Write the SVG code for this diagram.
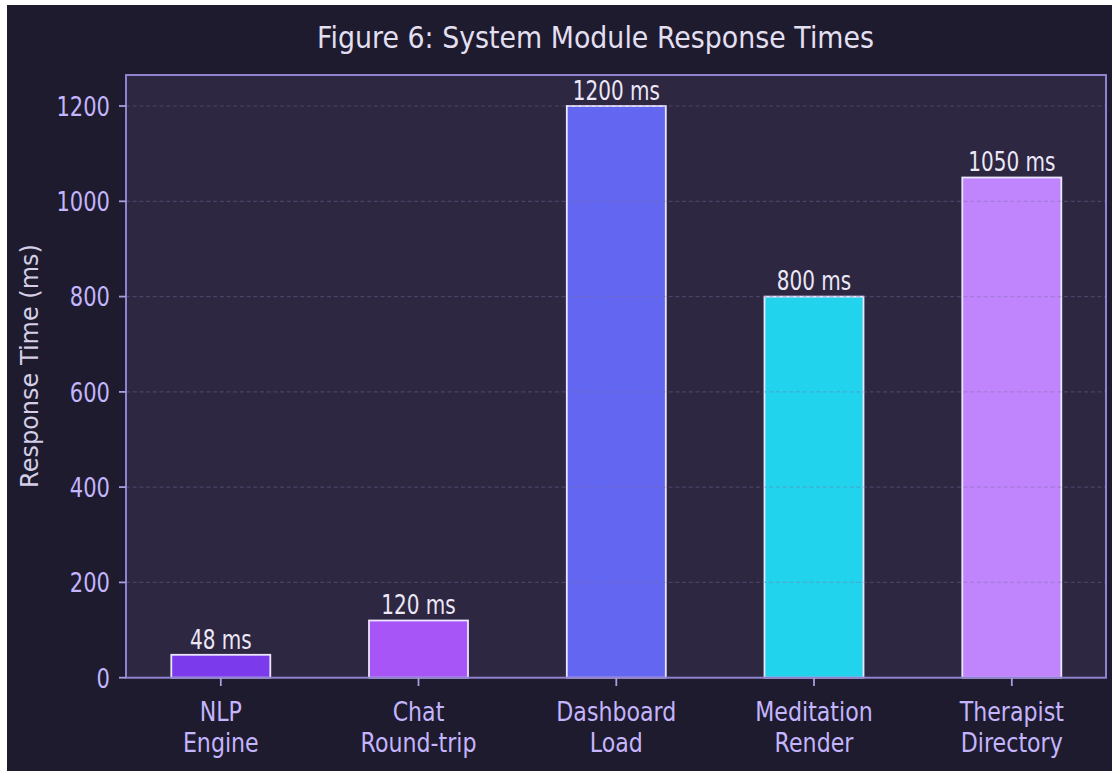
<svg xmlns="http://www.w3.org/2000/svg" width="1112" height="771" viewBox="0 0 1112 771">
  <style>
    .txt { font-family: "DejaVu Sans", "Liberation Sans", sans-serif; }
    .title { font-size: 31px; fill: #e2dff0; }
    .ytick { font-size: 27px; fill: #c4b5fd; text-anchor: end; }
    .xtick { font-size: 27px; fill: #c4b5fd; text-anchor: middle; }
    .val { font-size: 26px; fill: #ece8f8; text-anchor: middle; }
    .ylab { font-size: 24px; fill: #d4cfe6; text-anchor: middle; }
    .grid { stroke: #7c6fa0; stroke-opacity: 0.38; stroke-width: 1.2; stroke-dasharray: 4 2.7; }
    .tick { stroke: #a99ce0; stroke-width: 1.8; }
    .bar { stroke: #ebe6ff; stroke-width: 1.8; }
  </style>

  <!-- page edge and figure background -->
  <rect x="0" y="0" width="1112" height="771" fill="#ffffff"/>
  <rect x="7" y="5" width="1105" height="766" fill="#1e1b2e"/>

  <!-- plotting area -->
  <rect x="126" y="75" width="980" height="602.7" fill="#2e2742"/>

  <text class="txt title" x="595.5" y="48" text-anchor="middle" textLength="557" lengthAdjust="spacingAndGlyphs">Figure 6: System Module Response Times</text>

  <!-- bars -->
  <g id="bar-nlp">
    <rect class="bar" x="171.3" y="654.8" width="99" height="22.9" fill="#7c3aed"/>
    <text class="txt val" transform="translate(220.8 648.5) scale(0.77 1)">48 ms</text>
  </g>
  <g id="bar-chat">
    <rect class="bar" x="369" y="620.5" width="99" height="57.2" fill="#a855f7"/>
    <text class="txt val" transform="translate(418.5 614) scale(0.77 1)">120 ms</text>
  </g>
  <g id="bar-dashboard">
    <rect class="bar" x="566.8" y="106" width="99" height="571.7" fill="#6366f1"/>
    <text class="txt val" transform="translate(616.3 99.5) scale(0.77 1)">1200 ms</text>
  </g>
  <g id="bar-meditation">
    <rect class="bar" x="764.5" y="296.6" width="99" height="381.1" fill="#22d3ee"/>
    <text class="txt val" transform="translate(814 290) scale(0.77 1)">800 ms</text>
  </g>
  <g id="bar-therapist">
    <rect class="bar" x="962.3" y="177.5" width="99" height="500.2" fill="#c084fc"/>
    <text class="txt val" transform="translate(1011.8 171) scale(0.77 1)">1050 ms</text>
  </g>

  <!-- dashed grid drawn over the bars -->
  <g id="grid">
    <line class="grid" x1="126" y1="582.4" x2="1106" y2="582.4"/>
    <line class="grid" x1="126" y1="487.1" x2="1106" y2="487.1"/>
    <line class="grid" x1="126" y1="391.9" x2="1106" y2="391.9"/>
    <line class="grid" x1="126" y1="296.6" x2="1106" y2="296.6"/>
    <line class="grid" x1="126" y1="201.3" x2="1106" y2="201.3"/>
    <line class="grid" x1="126" y1="106" x2="1106" y2="106"/>
  </g>

  <!-- axes frame -->
  <rect x="126" y="75" width="980" height="602.7" fill="none" stroke="#8f82cf" stroke-width="2"/>

  <!-- y axis ticks and labels -->
  <g id="y-axis">
    <line class="tick" x1="119" y1="677.7" x2="126" y2="677.7"/>
    <line class="tick" x1="119" y1="582.4" x2="126" y2="582.4"/>
    <line class="tick" x1="119" y1="487.1" x2="126" y2="487.1"/>
    <line class="tick" x1="119" y1="391.9" x2="126" y2="391.9"/>
    <line class="tick" x1="119" y1="296.6" x2="126" y2="296.6"/>
    <line class="tick" x1="119" y1="201.3" x2="126" y2="201.3"/>
    <line class="tick" x1="119" y1="106" x2="126" y2="106"/>
    <text class="txt ytick" transform="translate(110 687.5) scale(0.78 1)">0</text>
    <text class="txt ytick" transform="translate(110 592.2) scale(0.78 1)">200</text>
    <text class="txt ytick" transform="translate(110 496.9) scale(0.78 1)">400</text>
    <text class="txt ytick" transform="translate(110 401.7) scale(0.78 1)">600</text>
    <text class="txt ytick" transform="translate(110 306.4) scale(0.78 1)">800</text>
    <text class="txt ytick" transform="translate(110 211.1) scale(0.78 1)">1000</text>
    <text class="txt ytick" transform="translate(110 115.8) scale(0.78 1)">1200</text>
    <text class="txt ylab" transform="translate(38 366) rotate(-90)">Response Time (ms)</text>
  </g>

  <!-- x axis ticks and category labels -->
  <g id="x-axis">
    <line class="tick" x1="220.8" y1="677.7" x2="220.8" y2="686"/>
    <line class="tick" x1="418.5" y1="677.7" x2="418.5" y2="686"/>
    <line class="tick" x1="616.3" y1="677.7" x2="616.3" y2="686"/>
    <line class="tick" x1="814" y1="677.7" x2="814" y2="686"/>
    <line class="tick" x1="1011.8" y1="677.7" x2="1011.8" y2="686"/>
    <text class="txt xtick" transform="translate(220.8 720.5) scale(0.82 1)">NLP</text>
    <text class="txt xtick" transform="translate(220.8 751.5) scale(0.82 1)">Engine</text>
    <text class="txt xtick" transform="translate(418.5 720.5) scale(0.82 1)">Chat</text>
    <text class="txt xtick" transform="translate(418.5 751.5) scale(0.82 1)">Round-trip</text>
    <text class="txt xtick" transform="translate(616.3 720.5) scale(0.82 1)">Dashboard</text>
    <text class="txt xtick" transform="translate(616.3 751.5) scale(0.82 1)">Load</text>
    <text class="txt xtick" transform="translate(814 720.5) scale(0.82 1)">Meditation</text>
    <text class="txt xtick" transform="translate(814 751.5) scale(0.82 1)">Render</text>
    <text class="txt xtick" transform="translate(1011.8 720.5) scale(0.82 1)">Therapist</text>
    <text class="txt xtick" transform="translate(1011.8 751.5) scale(0.82 1)">Directory</text>
  </g>
</svg>
